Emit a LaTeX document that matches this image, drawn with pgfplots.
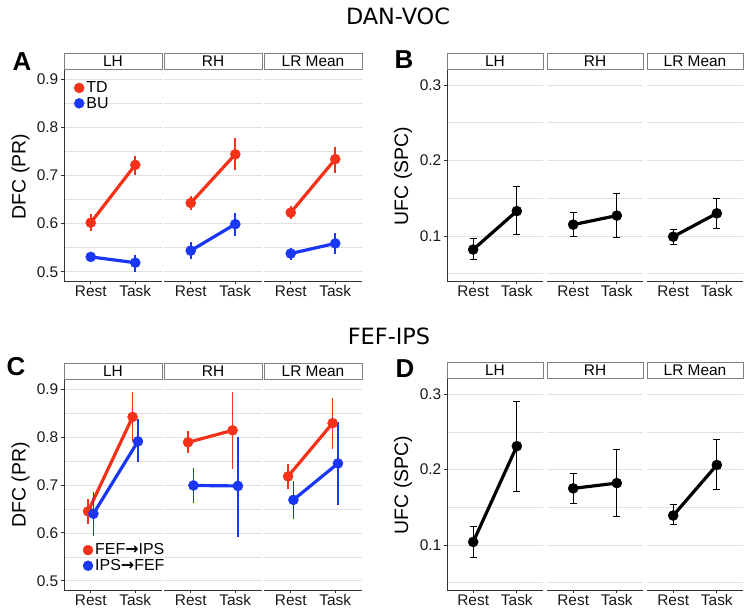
\documentclass[border=0pt]{standalone}
\usepackage{pgfplots}
\pgfplotsset{compat=1.18}
\usepackage{fontspec}
\setmainfont{Liberation Sans}
\newfontfamily\dejavu{DejaVu Sans}

\definecolor{tdred}{RGB}{245,50,25}
\definecolor{bublue}{RGB}{25,55,245}
\definecolor{gridgray}{RGB}{224,224,224}
\definecolor{stripgray}{RGB}{128,128,128}
\definecolor{axisgray}{RGB}{50,50,50}

\newcommand{\ticktext}{\fontsize{15.5}{16}\selectfont}
\newcommand{\legtext}{\fontsize{16}{16}\selectfont}
\newcommand{\labtext}{\fontsize{19.5}{20}\selectfont}
\newcommand{\lettertext}{\bfseries\fontsize{26}{26}\selectfont}
\newcommand{\titletext}{\dejavu\fontsize{22.5}{22}\selectfont}

% facet strip on top of each panel
\newcommand{\strip}[1]{%
  \draw[stripgray, line width=0.9bp, fill=white]
    ([yshift=1bp]rel axis cs:0,1) rectangle ([yshift=17bp]rel axis cs:1,1);
  \node[font=\ticktext, inner sep=0pt] at ([yshift=9bp]rel axis cs:0.5,1) {#1};}

\pgfplotsset{
  /pgfplots/table/errtab/.style={x=x, y=y, row sep=\\,
    y error plus expr=\thisrow{hi}-\thisrow{y},
    y error minus expr=\thisrow{y}-\thisrow{lo}},
  facet/.style={scale only axis, width=#1, clip=false,
    xmin=0.4, xmax=2.6, xtick={1,2}, xticklabels={Rest,Task},
    axis x line*=bottom, axis y line*=left,
    axis line style={-, axisgray, line width=0.9bp},
    tick align=outside, major tick length=3.5bp, minor tick length=0pt,
    tick style={axisgray, line width=0.9bp},
    ymajorgrids, yminorgrids,
    major grid style={gridgray, line width=0.8bp},
    minor grid style={gridgray, line width=0.6bp},
    ticklabel style={font=\ticktext, black!90},
    xticklabel style={inner sep=1bp},
    yticklabel style={inner sep=2bp},
    legend image code/.code={\fill[##1] (0bp,0bp) circle (5bp);},
  },
  inner/.style={y axis line style={draw=none}, ytick style={draw=none}, yticklabels={}},
  dfc/.style={height=211bp, ymin=0.481, ymax=0.919,
    ytick={0.5,0.6,0.7,0.8,0.9}, yticklabels={0.5,0.6,0.7,0.8,0.9},
    minor ytick={0.55,0.65,0.75,0.85}},
  ufc/.style={height=211bp, ymin=0.0403, ymax=0.320,
    ytick={0.1,0.2,0.3}, yticklabels={0.1,0.2,0.3},
    minor ytick={0.05,0.15,0.25}},
  prplot/.style={line width=3.2bp, mark=*, mark size=5bp, mark options={solid, line width=0.5bp},
    error bars/y dir=both, error bars/y explicit, error bars/error mark=none,
    error bars/error bar style={line width=1.7bp}},
  ufcplot/.style={black, line width=3.2bp, mark=*, mark size=5bp, mark options={solid, line width=0.5bp},
    error bars/y dir=both, error bars/y explicit, error bars/error mark=-,
    error bars/error bar style={line width=1bp},
    error bars/error mark options={rotate=90, mark size=3.5bp, line width=1bp}},
}

\begin{document}
\begin{tikzpicture}
\useasboundingbox (0,0) rectangle (753bp,615bp);

\node[font=\titletext] at (398bp,599bp) {DAN-VOC};
\node[font=\titletext] at (389bp,279bp) {FEF-IPS};

\node[font=\lettertext] at (22bp,553bp) {A};
\node[font=\lettertext] at (404bp,555bp) {B};
\node[font=\lettertext] at (16bp,248bp) {C};
\node[font=\lettertext] at (405bp,246bp) {D};

\node[font=\labtext, rotate=90] at (20.5bp,438.5bp) {DFC (PR)};
\node[font=\labtext, rotate=90] at (403bp,439bp) {UFC (SPC)};
\node[font=\labtext, rotate=90] at (20.5bp,130bp) {DFC (PR)};
\node[font=\labtext, rotate=90] at (403bp,130bp) {UFC (SPC)};

% ---------------- Panel A ----------------
\begin{axis}[facet=98bp, dfc, at={(64bp,334bp)}, anchor=south west,
  legend style={at={(0.1,0.955)}, anchor=north west, draw=none, fill=none,
    font=\legtext, inner sep=0pt, row sep=-1bp, cells={anchor=west}}]
\addlegendimage{tdred}\addlegendentry{TD}
\addlegendimage{bublue}\addlegendentry{BU}
\addplot[forget plot, tdred, prplot] table[errtab] {x y lo hi\\ 1 0.602 0.585 0.620\\ 2 0.722 0.701 0.741\\};
\addplot[forget plot, bublue, prplot] table[errtab] {x y lo hi\\ 1 0.531 0.524 0.538\\ 2 0.519 0.500 0.535\\};
\strip{LH}
\end{axis}
\begin{axis}[facet=98bp, dfc, inner, at={(164bp,334bp)}, anchor=south west]
\addplot[tdred, prplot] table[errtab] {x y lo hi\\ 1 0.643 0.628 0.657\\ 2 0.744 0.711 0.777\\};
\addplot[bublue, prplot] table[errtab] {x y lo hi\\ 1 0.544 0.526 0.561\\ 2 0.599 0.574 0.623\\};
\strip{RH}
\end{axis}
\begin{axis}[facet=98bp, dfc, inner, at={(264bp,334bp)}, anchor=south west]
\addplot[tdred, prplot] table[errtab] {x y lo hi\\ 1 0.623 0.609 0.637\\ 2 0.734 0.706 0.760\\};
\addplot[bublue, prplot] table[errtab] {x y lo hi\\ 1 0.538 0.524 0.550\\ 2 0.559 0.538 0.580\\};
\strip{LR Mean}
\end{axis}

% ---------------- Panel B ----------------
\begin{axis}[facet=96bp, ufc, at={(447bp,334bp)}, anchor=south west]
\addplot[ufcplot] table[errtab] {x y lo hi\\ 1 0.082 0.069 0.096\\ 2 0.133 0.102 0.165\\};
\strip{LH}
\end{axis}
\begin{axis}[facet=96bp, ufc, inner, at={(547bp,334bp)}, anchor=south west]
\addplot[ufcplot] table[errtab] {x y lo hi\\ 1 0.115 0.099 0.131\\ 2 0.127 0.098 0.156\\};
\strip{RH}
\end{axis}
\begin{axis}[facet=96bp, ufc, inner, at={(647bp,334bp)}, anchor=south west]
\addplot[ufcplot] table[errtab] {x y lo hi\\ 1 0.099 0.089 0.109\\ 2 0.130 0.110 0.150\\};
\strip{LR Mean}
\end{axis}

% ---------------- Panel C ----------------
\begin{axis}[facet=98bp, dfc, height=210bp, at={(64bp,25bp)}, anchor=south west,
  legend style={at={(0.19,0.075)}, anchor=south west, draw=none, fill=none,
    font=\legtext, inner sep=0pt, row sep=-1bp, cells={anchor=west}}]
\addlegendimage{tdred}\addlegendentry{FEF{\dejavu\bfseries →}IPS}
\addlegendimage{bublue}\addlegendentry{IPS{\dejavu\bfseries →}FEF}
\addplot[forget plot, tdred, prplot] table[errtab] {x y lo hi\\ 0.94 0.645 0.618 0.671\\ 1.94 0.842 0.790 0.894\\};
\addplot[forget plot, bublue, prplot] table[errtab] {x y lo hi\\ 1.06 0.640 0.594 0.686\\ 2.06 0.791 0.747 0.838\\};
\strip{LH}
\end{axis}
\begin{axis}[facet=98bp, dfc, height=210bp, inner, at={(164bp,25bp)}, anchor=south west]
\addplot[tdred, prplot] table[errtab] {x y lo hi\\ 0.94 0.789 0.766 0.812\\ 1.94 0.814 0.734 0.895\\};
\addplot[bublue, prplot] table[errtab] {x y lo hi\\ 1.06 0.699 0.662 0.736\\ 2.06 0.698 0.592 0.801\\};
\strip{RH}
\end{axis}
\begin{axis}[facet=98bp, dfc, height=210bp, inner, at={(264bp,25bp)}, anchor=south west]
\addplot[tdred, prplot] table[errtab] {x y lo hi\\ 0.94 0.718 0.692 0.743\\ 1.94 0.829 0.775 0.881\\};
\addplot[bublue, prplot] table[errtab] {x y lo hi\\ 1.06 0.669 0.630 0.708\\ 2.06 0.745 0.659 0.831\\};
\strip{LR Mean}
\end{axis}

% ---------------- Panel D ----------------
\begin{axis}[facet=96bp, ufc, at={(447bp,25bp)}, anchor=south west]
\addplot[ufcplot] table[errtab] {x y lo hi\\ 1 0.104 0.083 0.125\\ 2 0.231 0.171 0.290\\};
\strip{LH}
\end{axis}
\begin{axis}[facet=96bp, ufc, inner, at={(547bp,25bp)}, anchor=south west]
\addplot[ufcplot] table[errtab] {x y lo hi\\ 1 0.175 0.155 0.195\\ 2 0.182 0.138 0.227\\};
\strip{RH}
\end{axis}
\begin{axis}[facet=96bp, ufc, inner, at={(647bp,25bp)}, anchor=south west]
\addplot[ufcplot] table[errtab] {x y lo hi\\ 1 0.139 0.127 0.153\\ 2 0.206 0.173 0.240\\};
\strip{LR Mean}
\end{axis}
\end{tikzpicture}
\end{document}
